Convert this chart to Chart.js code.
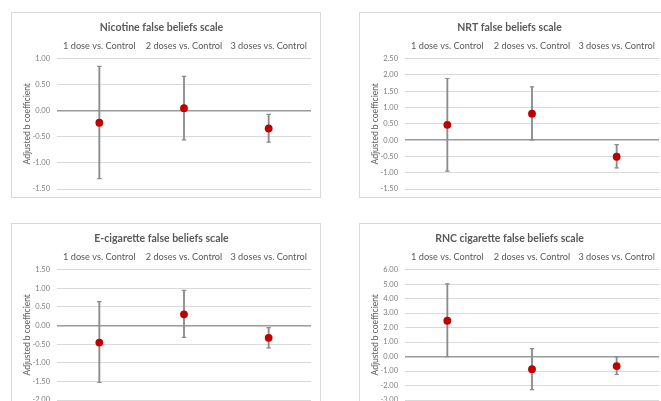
<!DOCTYPE html>
<html>
<head>
<meta charset="utf-8">
<script src="https://cdn.jsdelivr.net/npm/chart.js@4.4.1/dist/chart.umd.min.js"></script>
<style>
  html, body { margin: 0; padding: 0; background: #fff; overflow: hidden; }
  body { width: 661px; height: 401px; position: relative; }
  .panel { position: absolute; width: 310px; height: 186px; border: 1px solid #d9d9d9; box-sizing: border-box; background: #fff; }
  .panel canvas { position: absolute; left: 0; top: 0; }
</style>
</head>
<body>
<div class="panel" style="left:11px; top:12px;"><canvas id="c1"></canvas></div>
<div class="panel" style="left:359px; top:12px;"><canvas id="c2"></canvas></div>
<div class="panel" style="left:11px; top:223px;"><canvas id="c3"></canvas></div>
<div class="panel" style="left:359px; top:223px;"><canvas id="c4"></canvas></div>
<script>
// categorias (eixo de cima)
const categories = ['1 dose vs. Control', '2 doses vs. Control', '3 doses vs. Control'];

// Nicotine false beliefs scale
const nicotineB = [-0.23, 0.05, -0.34];
const nicotineLow = [-1.30, -0.56, -0.60];
const nicotineHigh = [0.85, 0.66, -0.07];
const nicotineTicks = [-1.5, 1.0, 0.5];

// NRT false beliefs scale
const nrtB = [0.47, 0.81, -0.51];
const nrtLow = [-0.95, 0.00, -0.85];
const nrtHigh = [1.89, 1.63, -0.14];
const nrtTicks = [-1.5, 2.5, 0.5];

// E-cigarette false beliefs scale
const ecigB = [-0.46, 0.30, -0.33];
const ecigLow = [-1.53, -0.32, -0.60];
const ecigHigh = [0.64, 0.94, -0.06];
const ecigTicks = [-2.0, 1.5, 0.5];

// RNC cigarette false beliefs scale
const rncB = [2.47, -0.87, -0.66];
const rncLow = [0.00, -2.29, -1.24];
const rncHigh = [5.01, 0.55, 0.00];
const rncTicks = [-3.0, 6.0, 1.0];

const grey = '#595959';
const barGrey = '#8c8c8c';
const red = '#c00000';
const fam = "Lato, 'Open Sans', sans-serif";

function makeChart(id, title, b, low, high, ticks) {
    const ctx = document.getElementById(id).getContext('2d');
    ctx.canvas.width = 308;
    ctx.canvas.height = 184;
    return new Chart(ctx, {
        type: 'bar',
        data: {
            labels: categories,
            datasets: [
                {
                    type: 'line',
                    data: b,
                    showLine: false,
                    pointRadius: 3.9,
                    pointBackgroundColor: red,
                    pointBorderColor: red,
                    pointBorderWidth: 0
                },
                {
                    type: 'line',
                    data: high,
                    showLine: false,
                    pointStyle: 'line',
                    pointRadius: 2.2,
                    pointBorderColor: barGrey,
                    pointBorderWidth: 1.2
                },
                {
                    type: 'line',
                    data: low,
                    showLine: false,
                    pointStyle: 'line',
                    pointRadius: 2.2,
                    pointBorderColor: barGrey,
                    pointBorderWidth: 1.2
                },
                {
                    // barra de erro (intervalo de confiança)
                    type: 'bar',
                    data: low.map((v, i) => [v, high[i]]),
                    backgroundColor: barGrey,
                    barThickness: 1.2,
                    borderSkipped: false
                }
            ]
        },
        options: {
            responsive: false,
            animation: false,
            events: [],
            layout: { padding: { left: 0, right: 9, bottom: 8, top: 0 } },
            plugins: {
                legend: { display: false },
                tooltip: { enabled: false },
                title: {
                    display: true,
                    text: title,
                    color: grey,
                    font: { family: fam, size: 10.5, weight: 'bold' },
                    padding: { top: 8, bottom: 5 }
                }
            },
            scales: {
                x: {
                    position: 'top',
                    offset: true,
                    grid: { display: false, drawTicks: false },
                    border: { display: false },
                    ticks: { color: grey, font: { family: fam, size: 9.2 }, padding: 7, maxRotation: 0, autoSkip: false },
                    afterFit: (scale) => { scale.height = 20; }
                },
                y: {
                    min: ticks[0],
                    max: ticks[1],
                    border: { display: false },
                    grid: {
                        drawTicks: false,
                        color: (c) => c.tick && c.tick.value === 0 ? '#9a9a9a' : '#d9d9d9',
                        lineWidth: (c) => c.tick && c.tick.value === 0 ? 1.6 : 1
                    },
                    ticks: {
                        stepSize: ticks[2],
                        color: '#7f7f7f',
                        padding: 7,
                        font: { family: fam, size: 7.5 },
                        callback: (v) => Number(v).toFixed(2)
                    },
                    title: {
                        display: true,
                        text: 'Adjusted b coefficient',
                        color: grey,
                        font: { family: fam, size: 8.5 },
                        padding: { top: 10, bottom: 0 }
                    },
                    afterFit: (scale) => {
                        scale.width = 45;
                        scale.paddingTop = 0;
                        scale.paddingBottom = 0;
                    }
                }
            }
        }
    });
}

makeChart('c1', 'Nicotine false beliefs scale', nicotineB, nicotineLow, nicotineHigh, nicotineTicks);
makeChart('c2', 'NRT false beliefs scale', nrtB, nrtLow, nrtHigh, nrtTicks);
makeChart('c3', 'E-cigarette false beliefs scale', ecigB, ecigLow, ecigHigh, ecigTicks);
makeChart('c4', 'RNC cigarette false beliefs scale', rncB, rncLow, rncHigh, rncTicks);
</script>
</body>
</html>
